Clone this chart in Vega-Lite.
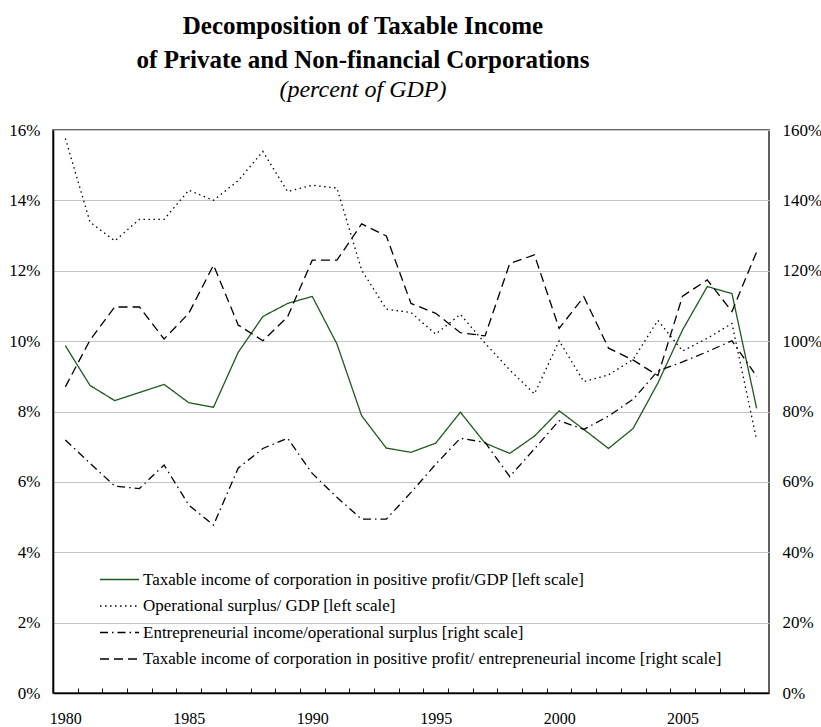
{
  "$schema": "https://vega.github.io/schema/vega-lite/v6.json",
  "autosize": {"type": "none"},
  "padding": {"left": 53, "top": 130, "right": 52, "bottom": 34},
  "width": 716,
  "height": 563,
  "title": {
    "text": ["Decomposition of Taxable Income", "of Private and Non-financial Corporations"],
    "subtitle": "(percent of GDP)",
    "font": "Liberation Serif",
    "fontSize": 25,
    "fontWeight": "bold",
    "lineHeight": 34,
    "color": "#000000",
    "subtitleFont": "Liberation Serif",
    "subtitleFontSize": 24,
    "subtitleFontStyle": "italic",
    "subtitleFontWeight": "normal",
    "subtitleColor": "#000000",
    "subtitlePadding": 5,
    "anchor": "middle",
    "frame": "group",
    "dx": -48,
    "offset": 19
  },
  "datasets": {
    "leftScale": [
      {"year": 1980, "series": "Taxable income of corporation in positive profit/GDP [left scale]", "value": 9.87},
      {"year": 1981, "series": "Taxable income of corporation in positive profit/GDP [left scale]", "value": 8.74},
      {"year": 1982, "series": "Taxable income of corporation in positive profit/GDP [left scale]", "value": 8.31},
      {"year": 1983, "series": "Taxable income of corporation in positive profit/GDP [left scale]", "value": 8.54},
      {"year": 1984, "series": "Taxable income of corporation in positive profit/GDP [left scale]", "value": 8.77},
      {"year": 1985, "series": "Taxable income of corporation in positive profit/GDP [left scale]", "value": 8.25},
      {"year": 1986, "series": "Taxable income of corporation in positive profit/GDP [left scale]", "value": 8.12},
      {"year": 1987, "series": "Taxable income of corporation in positive profit/GDP [left scale]", "value": 9.68},
      {"year": 1988, "series": "Taxable income of corporation in positive profit/GDP [left scale]", "value": 10.70},
      {"year": 1989, "series": "Taxable income of corporation in positive profit/GDP [left scale]", "value": 11.07},
      {"year": 1990, "series": "Taxable income of corporation in positive profit/GDP [left scale]", "value": 11.27},
      {"year": 1991, "series": "Taxable income of corporation in positive profit/GDP [left scale]", "value": 9.92},
      {"year": 1992, "series": "Taxable income of corporation in positive profit/GDP [left scale]", "value": 7.88},
      {"year": 1993, "series": "Taxable income of corporation in positive profit/GDP [left scale]", "value": 6.96},
      {"year": 1994, "series": "Taxable income of corporation in positive profit/GDP [left scale]", "value": 6.84},
      {"year": 1995, "series": "Taxable income of corporation in positive profit/GDP [left scale]", "value": 7.10},
      {"year": 1996, "series": "Taxable income of corporation in positive profit/GDP [left scale]", "value": 7.98},
      {"year": 1997, "series": "Taxable income of corporation in positive profit/GDP [left scale]", "value": 7.10},
      {"year": 1998, "series": "Taxable income of corporation in positive profit/GDP [left scale]", "value": 6.81},
      {"year": 1999, "series": "Taxable income of corporation in positive profit/GDP [left scale]", "value": 7.30},
      {"year": 2000, "series": "Taxable income of corporation in positive profit/GDP [left scale]", "value": 8.02},
      {"year": 2001, "series": "Taxable income of corporation in positive profit/GDP [left scale]", "value": 7.49},
      {"year": 2002, "series": "Taxable income of corporation in positive profit/GDP [left scale]", "value": 6.95},
      {"year": 2003, "series": "Taxable income of corporation in positive profit/GDP [left scale]", "value": 7.52},
      {"year": 2004, "series": "Taxable income of corporation in positive profit/GDP [left scale]", "value": 8.81},
      {"year": 2005, "series": "Taxable income of corporation in positive profit/GDP [left scale]", "value": 10.32},
      {"year": 2006, "series": "Taxable income of corporation in positive profit/GDP [left scale]", "value": 11.55},
      {"year": 2007, "series": "Taxable income of corporation in positive profit/GDP [left scale]", "value": 11.35},
      {"year": 2008, "series": "Taxable income of corporation in positive profit/GDP [left scale]", "value": 8.09},
      {"year": 1980, "series": "Operational surplus/ GDP [left scale]", "value": 15.76},
      {"year": 1981, "series": "Operational surplus/ GDP [left scale]", "value": 13.38},
      {"year": 1982, "series": "Operational surplus/ GDP [left scale]", "value": 12.85},
      {"year": 1983, "series": "Operational surplus/ GDP [left scale]", "value": 13.46},
      {"year": 1984, "series": "Operational surplus/ GDP [left scale]", "value": 13.46},
      {"year": 1985, "series": "Operational surplus/ GDP [left scale]", "value": 14.29},
      {"year": 1986, "series": "Operational surplus/ GDP [left scale]", "value": 14.00},
      {"year": 1987, "series": "Operational surplus/ GDP [left scale]", "value": 14.56},
      {"year": 1988, "series": "Operational surplus/ GDP [left scale]", "value": 15.39},
      {"year": 1989, "series": "Operational surplus/ GDP [left scale]", "value": 14.25},
      {"year": 1990, "series": "Operational surplus/ GDP [left scale]", "value": 14.43},
      {"year": 1991, "series": "Operational surplus/ GDP [left scale]", "value": 14.35},
      {"year": 1992, "series": "Operational surplus/ GDP [left scale]", "value": 12.02},
      {"year": 1993, "series": "Operational surplus/ GDP [left scale]", "value": 10.91},
      {"year": 1994, "series": "Operational surplus/ GDP [left scale]", "value": 10.81},
      {"year": 1995, "series": "Operational surplus/ GDP [left scale]", "value": 10.20},
      {"year": 1996, "series": "Operational surplus/ GDP [left scale]", "value": 10.76},
      {"year": 1997, "series": "Operational surplus/ GDP [left scale]", "value": 9.94},
      {"year": 1998, "series": "Operational surplus/ GDP [left scale]", "value": 9.18},
      {"year": 1999, "series": "Operational surplus/ GDP [left scale]", "value": 8.50},
      {"year": 2000, "series": "Operational surplus/ GDP [left scale]", "value": 10.01},
      {"year": 2001, "series": "Operational surplus/ GDP [left scale]", "value": 8.85},
      {"year": 2002, "series": "Operational surplus/ GDP [left scale]", "value": 9.04},
      {"year": 2003, "series": "Operational surplus/ GDP [left scale]", "value": 9.48},
      {"year": 2004, "series": "Operational surplus/ GDP [left scale]", "value": 10.59},
      {"year": 2005, "series": "Operational surplus/ GDP [left scale]", "value": 9.72},
      {"year": 2006, "series": "Operational surplus/ GDP [left scale]", "value": 10.08},
      {"year": 2007, "series": "Operational surplus/ GDP [left scale]", "value": 10.50},
      {"year": 2008, "series": "Operational surplus/ GDP [left scale]", "value": 7.19}
    ],
    "rightScale": [
      {"year": 1980, "series": "Entrepreneurial income/operational surplus [right scale]", "value": 71.9},
      {"year": 1981, "series": "Entrepreneurial income/operational surplus [right scale]", "value": 65.3},
      {"year": 1982, "series": "Entrepreneurial income/operational surplus [right scale]", "value": 58.8},
      {"year": 1983, "series": "Entrepreneurial income/operational surplus [right scale]", "value": 58.1},
      {"year": 1984, "series": "Entrepreneurial income/operational surplus [right scale]", "value": 64.8},
      {"year": 1985, "series": "Entrepreneurial income/operational surplus [right scale]", "value": 53.4},
      {"year": 1986, "series": "Entrepreneurial income/operational surplus [right scale]", "value": 47.7},
      {"year": 1987, "series": "Entrepreneurial income/operational surplus [right scale]", "value": 63.9},
      {"year": 1988, "series": "Entrepreneurial income/operational surplus [right scale]", "value": 69.5},
      {"year": 1989, "series": "Entrepreneurial income/operational surplus [right scale]", "value": 72.4},
      {"year": 1990, "series": "Entrepreneurial income/operational surplus [right scale]", "value": 62.4},
      {"year": 1991, "series": "Entrepreneurial income/operational surplus [right scale]", "value": 55.6},
      {"year": 1992, "series": "Entrepreneurial income/operational surplus [right scale]", "value": 49.4},
      {"year": 1993, "series": "Entrepreneurial income/operational surplus [right scale]", "value": 49.4},
      {"year": 1994, "series": "Entrepreneurial income/operational surplus [right scale]", "value": 57.0},
      {"year": 1995, "series": "Entrepreneurial income/operational surplus [right scale]", "value": 65.0},
      {"year": 1996, "series": "Entrepreneurial income/operational surplus [right scale]", "value": 72.4},
      {"year": 1997, "series": "Entrepreneurial income/operational surplus [right scale]", "value": 71.2},
      {"year": 1998, "series": "Entrepreneurial income/operational surplus [right scale]", "value": 61.5},
      {"year": 1999, "series": "Entrepreneurial income/operational surplus [right scale]", "value": 69.4},
      {"year": 2000, "series": "Entrepreneurial income/operational surplus [right scale]", "value": 77.4},
      {"year": 2001, "series": "Entrepreneurial income/operational surplus [right scale]", "value": 74.9},
      {"year": 2002, "series": "Entrepreneurial income/operational surplus [right scale]", "value": 78.7},
      {"year": 2003, "series": "Entrepreneurial income/operational surplus [right scale]", "value": 83.5},
      {"year": 2004, "series": "Entrepreneurial income/operational surplus [right scale]", "value": 91.5},
      {"year": 2005, "series": "Entrepreneurial income/operational surplus [right scale]", "value": 94.1},
      {"year": 2006, "series": "Entrepreneurial income/operational surplus [right scale]", "value": 97.0},
      {"year": 2007, "series": "Entrepreneurial income/operational surplus [right scale]", "value": 100.1},
      {"year": 2008, "series": "Entrepreneurial income/operational surplus [right scale]", "value": 90.0},
      {"year": 1980, "series": "Taxable income of corporation in positive profit/ entrepreneurial income [right scale]", "value": 87.0},
      {"year": 1981, "series": "Taxable income of corporation in positive profit/ entrepreneurial income [right scale]", "value": 100.3},
      {"year": 1982, "series": "Taxable income of corporation in positive profit/ entrepreneurial income [right scale]", "value": 109.7},
      {"year": 1983, "series": "Taxable income of corporation in positive profit/ entrepreneurial income [right scale]", "value": 109.7},
      {"year": 1984, "series": "Taxable income of corporation in positive profit/ entrepreneurial income [right scale]", "value": 100.6},
      {"year": 1985, "series": "Taxable income of corporation in positive profit/ entrepreneurial income [right scale]", "value": 107.9},
      {"year": 1986, "series": "Taxable income of corporation in positive profit/ entrepreneurial income [right scale]", "value": 121.6},
      {"year": 1987, "series": "Taxable income of corporation in positive profit/ entrepreneurial income [right scale]", "value": 104.6},
      {"year": 1988, "series": "Taxable income of corporation in positive profit/ entrepreneurial income [right scale]", "value": 100.1},
      {"year": 1989, "series": "Taxable income of corporation in positive profit/ entrepreneurial income [right scale]", "value": 106.9},
      {"year": 1990, "series": "Taxable income of corporation in positive profit/ entrepreneurial income [right scale]", "value": 123.0},
      {"year": 1991, "series": "Taxable income of corporation in positive profit/ entrepreneurial income [right scale]", "value": 123.0},
      {"year": 1992, "series": "Taxable income of corporation in positive profit/ entrepreneurial income [right scale]", "value": 133.3},
      {"year": 1993, "series": "Taxable income of corporation in positive profit/ entrepreneurial income [right scale]", "value": 129.9},
      {"year": 1994, "series": "Taxable income of corporation in positive profit/ entrepreneurial income [right scale]", "value": 110.7},
      {"year": 1995, "series": "Taxable income of corporation in positive profit/ entrepreneurial income [right scale]", "value": 107.9},
      {"year": 1996, "series": "Taxable income of corporation in positive profit/ entrepreneurial income [right scale]", "value": 102.4},
      {"year": 1997, "series": "Taxable income of corporation in positive profit/ entrepreneurial income [right scale]", "value": 101.5},
      {"year": 1998, "series": "Taxable income of corporation in positive profit/ entrepreneurial income [right scale]", "value": 122.1},
      {"year": 1999, "series": "Taxable income of corporation in positive profit/ entrepreneurial income [right scale]", "value": 124.5},
      {"year": 2000, "series": "Taxable income of corporation in positive profit/ entrepreneurial income [right scale]", "value": 103.6},
      {"year": 2001, "series": "Taxable income of corporation in positive profit/ entrepreneurial income [right scale]", "value": 112.6},
      {"year": 2002, "series": "Taxable income of corporation in positive profit/ entrepreneurial income [right scale]", "value": 98.0},
      {"year": 2003, "series": "Taxable income of corporation in positive profit/ entrepreneurial income [right scale]", "value": 94.6},
      {"year": 2004, "series": "Taxable income of corporation in positive profit/ entrepreneurial income [right scale]", "value": 90.2},
      {"year": 2005, "series": "Taxable income of corporation in positive profit/ entrepreneurial income [right scale]", "value": 112.8},
      {"year": 2006, "series": "Taxable income of corporation in positive profit/ entrepreneurial income [right scale]", "value": 117.4},
      {"year": 2007, "series": "Taxable income of corporation in positive profit/ entrepreneurial income [right scale]", "value": 108.4},
      {"year": 2008, "series": "Taxable income of corporation in positive profit/ entrepreneurial income [right scale]", "value": 125.4}
    ]
  },
  "layer": [
    {
      "data": {"name": "leftScale"},
      "mark": {"type": "line", "strokeWidth": 1.3, "clip": true},
      "encoding": {
        "x": {
          "field": "year", "type": "quantitative",
          "scale": {"domain": [1979.5, 2008.5], "nice": false, "zero": false},
          "axis": {
            "orient": "bottom", "title": null,
            "values": [1980, 1985, 1990, 1995, 2000, 2005],
            "format": "d", "ticks": false, "grid": false,
            "labelPadding": 17, "labelFontSize": 16, "domain": true
          }
        },
        "y": {
          "field": "value", "type": "quantitative",
          "scale": {"domain": [0, 16], "nice": false},
          "axis": {
            "orient": "left", "title": null,
            "values": [0, 2, 4, 6, 8, 10, 12, 14, 16],
            "labelExpr": "datum.value + '%'",
            "grid": true, "ticks": false, "labelPadding": 13
          }
        },
        "color": {
          "field": "series", "type": "nominal", "title": null,
          "scale": {
            "domain": [
              "Taxable income of corporation in positive profit/GDP [left scale]",
              "Operational surplus/ GDP [left scale]",
              "Entrepreneurial income/operational surplus [right scale]",
              "Taxable income of corporation in positive profit/ entrepreneurial income [right scale]"
            ],
            "range": ["#1e5a1e", "#000000", "#000000", "#000000"]
          }
        },
        "strokeDash": {
          "field": "series", "type": "nominal", "title": null,
          "scale": {
            "domain": [
              "Taxable income of corporation in positive profit/GDP [left scale]",
              "Operational surplus/ GDP [left scale]",
              "Entrepreneurial income/operational surplus [right scale]",
              "Taxable income of corporation in positive profit/ entrepreneurial income [right scale]"
            ],
            "range": [[1, 0], [1.5, 3.5], [8, 4, 1.5, 4], [9, 5]]
          }
        }
      }
    },
    {
      "data": {"name": "rightScale"},
      "mark": {"type": "line", "strokeWidth": 1.3, "clip": true},
      "encoding": {
        "x": {
          "field": "year", "type": "quantitative",
          "axis": {
            "orient": "bottom", "title": null,
            "values": [1980.5, 1981.5, 1982.5, 1983.5, 1984.5, 1985.5, 1986.5, 1987.5, 1988.5, 1989.5, 1990.5, 1991.5, 1992.5, 1993.5, 1994.5, 1995.5, 1996.5, 1997.5, 1998.5, 1999.5, 2000.5, 2001.5, 2002.5, 2003.5, 2004.5, 2005.5, 2006.5, 2007.5],
            "labels": false, "ticks": true, "tickSize": -5, "tickColor": "#000000", "tickWidth": 1,
            "grid": false, "domain": false
          }
        },
        "y": {
          "field": "value", "type": "quantitative",
          "scale": {"domain": [0, 160], "nice": false},
          "axis": {
            "orient": "right", "title": null,
            "values": [0, 20, 40, 60, 80, 100, 120, 140, 160],
            "labelExpr": "datum.value + '%'",
            "grid": false, "ticks": false, "domain": false, "labelPadding": 13
          }
        },
        "color": {"field": "series", "type": "nominal", "title": null},
        "strokeDash": {"field": "series", "type": "nominal", "title": null}
      }
    }
  ],
  "resolve": {"scale": {"y": "independent"}, "axis": {"x": "independent", "y": "independent"}},
  "config": {
    "font": "Liberation Serif",
    "background": "#ffffff",
    "view": {"stroke": "#3a3a3a", "strokeWidth": 1.6},
    "axis": {
      "labelFont": "Liberation Serif",
      "labelFontSize": 17,
      "labelColor": "#000000",
      "domainColor": "#000000",
      "domainWidth": 1.6,
      "gridColor": "#c4c4c4",
      "gridWidth": 1.2
    },
    "legend": {
      "orient": "none",
      "legendX": 45,
      "legendY": 441,
      "padding": 0,
      "symbolType": "M-1,0H5",
      "symbolSize": 169,
      "symbolStrokeWidth": 1.3,
      "labelFont": "Liberation Serif",
      "labelFontSize": 17,
      "labelColor": "#000000",
      "labelLimit": 0,
      "labelOffset": 28,
      "rowPadding": 8.5,
      "direction": "vertical"
    }
  },
  "encoding": {}
}
